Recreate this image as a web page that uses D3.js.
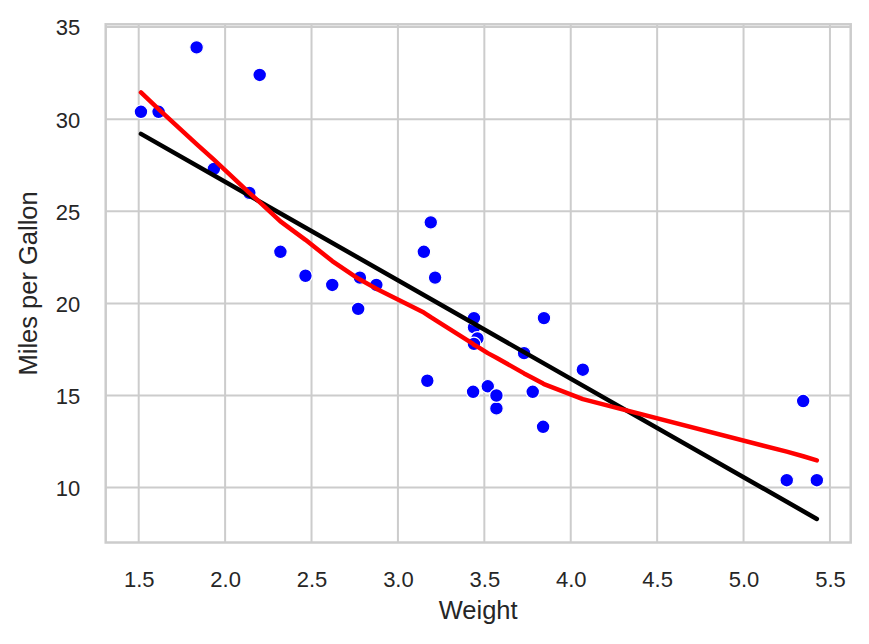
<!DOCTYPE html>
<html>
<head>
<meta charset="utf-8">
<script src="https://cdn.jsdelivr.net/npm/d3@7"></script>
<style>
html,body{margin:0;padding:0;background:#fff;}
svg text{font-family:"Liberation Sans",Arial,sans-serif;fill:#262626;}
</style>
</head>
<body>
<svg id="chart" width="869" height="644"></svg>
<script>
// Data (mtcars: weight in 1000 lbs, miles per gallon)
const weight = [2.620,2.875,2.320,3.215,3.440,3.460,3.570,3.190,3.150,3.440,3.440,4.070,3.730,3.780,5.250,5.424,5.345,2.200,1.615,1.835,2.465,3.520,3.435,3.840,3.845,1.935,2.140,1.513,3.170,2.770,3.570,2.780];
const mpg = [21.0,21.0,22.8,21.4,18.7,18.1,14.3,24.4,22.8,19.2,17.8,16.4,17.3,15.2,10.4,10.4,14.7,32.4,30.4,33.9,21.5,15.5,15.2,13.3,19.2,27.3,26.0,30.4,15.8,19.7,15.0,21.4];
// Linear fit line
const fitX = [1.513, 5.424];
const fitY = [29.2, 8.3];
// Lowess curve
const lowessX = [1.513,1.615,1.835,1.935,2.140,2.200,2.320,2.465,2.620,2.770,2.780,2.875,3.150,3.170,3.190,3.215,3.435,3.440,3.460,3.520,3.570,3.730,3.780,3.840,3.845,4.070,5.250,5.345,5.424];
const lowessY = [31.45,30.55,28.65,27.8,26.0,25.5,24.45,23.45,22.3,21.35,21.3,20.8,19.5,19.38,19.25,19.1,17.8,17.75,17.65,17.3,17.05,16.2,15.95,15.65,15.62,14.8,11.95,11.7,11.48];
const xTicks = [1.5,2.0,2.5,3.0,3.5,4.0,4.5,5.0,5.5];
const yTicks = [10,15,20,25,30,35];

const svg = d3.select("#chart");
const L = 105.7, R = 850.7, T = 24.3, B = 542.5;
const x = d3.scaleLinear().domain([1.309, 5.62]).range([L, R]);
const y = d3.scaleLinear().domain([7.02, 35.15]).range([B, T]);
const grid = "#cccccc";

// grid
svg.append("g").selectAll("line.gx").data(xTicks).join("line")
  .attr("x1", d => x(d)).attr("x2", d => x(d)).attr("y1", T).attr("y2", B)
  .attr("stroke", grid).attr("stroke-width", 2);
svg.append("g").selectAll("line.gy").data(yTicks).join("line")
  .attr("y1", d => y(d)).attr("y2", d => y(d)).attr("x1", L).attr("x2", R)
  .attr("stroke", grid).attr("stroke-width", 2);

// axes with d3 axis generators (no tick marks, labels only)
const xAxis = d3.axisBottom(x).tickValues(xTicks).tickFormat(d3.format(".1f")).tickSize(0).tickPadding(0);
const gx = svg.append("g").attr("transform", `translate(0,${B})`).call(xAxis);
gx.select(".domain").remove();
gx.selectAll("text").attr("dy", null).attr("y", 44.5).style("font-size", "22px").attr("fill", "#262626");

const yAxis = d3.axisLeft(y).tickValues(yTicks).tickFormat(d3.format("d")).tickSize(0).tickPadding(0);
const gy = svg.append("g").attr("transform", `translate(${L},0)`).call(yAxis);
gy.select(".domain").remove();
gy.selectAll("text").attr("x", -25.5).attr("dy", "0.36em").style("font-size", "22px").attr("fill", "#262626");

// frame
svg.append("rect").attr("x", L).attr("y", T).attr("width", R - L).attr("height", B - T)
  .attr("fill", "none").attr("stroke", grid).attr("stroke-width", 2.5);

// points
svg.append("g").selectAll("circle").data(weight.map((w, i) => [w, mpg[i]])).join("circle")
  .attr("cx", d => x(d[0])).attr("cy", d => y(d[1])).attr("r", 6.8)
  .attr("fill", "#0000ff").attr("stroke", "#ffffff").attr("stroke-width", 1.2);

// fit line
const line = d3.line().x(d => x(d[0])).y(d => y(d[1]));
svg.append("path").datum(fitX.map((v, i) => [v, fitY[i]])).attr("d", line)
  .attr("fill", "none").attr("stroke", "#000000").attr("stroke-width", 4.5).attr("stroke-linecap", "round");
// lowess line
svg.append("path").datum(lowessX.map((v, i) => [v, lowessY[i]])).attr("d", line)
  .attr("fill", "none").attr("stroke", "#ff0000").attr("stroke-width", 4.5)
  .attr("stroke-linecap", "round").attr("stroke-linejoin", "round");

// axis labels
svg.append("text").attr("x", (L + R) / 2).attr("y", 619).attr("text-anchor", "middle")
  .style("font-size", "25.5px").text("Weight");
svg.append("text").attr("transform", `translate(36.5,${(T + B) / 2}) rotate(-90)`)
  .attr("text-anchor", "middle").style("font-size", "25.5px").text("Miles per Gallon");
</script>
</body>
</html>
